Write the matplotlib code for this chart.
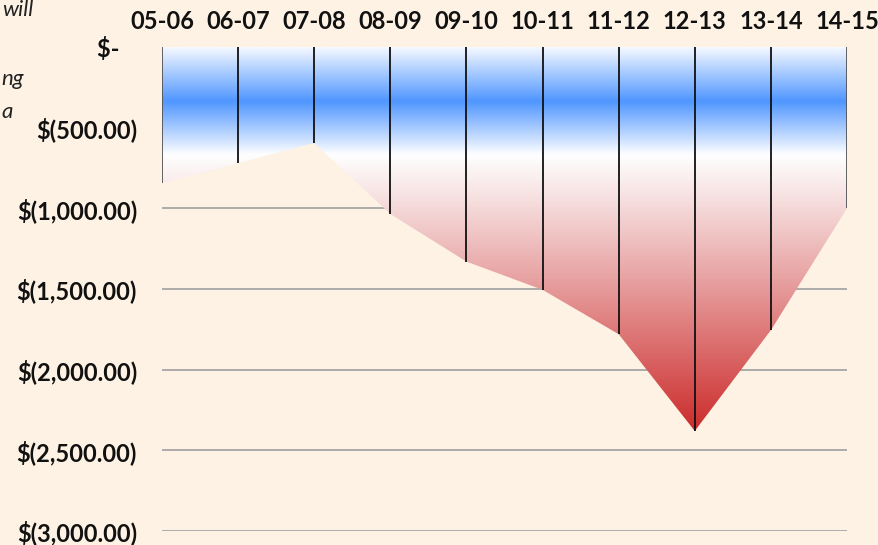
import numpy as np
import matplotlib.pyplot as plt
from matplotlib.colors import LinearSegmentedColormap
from matplotlib.patches import Polygon

plt.rcParams['text.parse_math'] = False
plt.rcParams['font.family'] = ['Lato', 'DejaVu Sans']

years = ["05-06", "06-07", "07-08", "08-09", "09-10", "10-11", "11-12", "12-13", "13-14", "14-15"]
balance = [-845, -720, -595, -1035, -1330, -1505, -1780, -2380, -1755, -1000]
y_ticks = [0, -500, -1000, -1500, -2000, -2500, -3000]
y_labels = ["$-   ", "$(500.00)", "$(1,000.00)", "$(1,500.00)", "$(2,000.00)", "$(2,500.00)", "$(3,000.00)"]

bg = "#fdf2e4"
W, H = 879, 545
fig = plt.figure(figsize=(W / 100, H / 100), dpi=100, facecolor=bg)
ax = fig.add_axes([162 / W, 1 - 531 / H, (847 - 162) / W, (531 - 47) / H], facecolor=bg)

x = np.arange(len(years))
ax.set_xlim(0, len(years) - 1)
ax.set_ylim(-3000, 0)

# gridlines
for t in y_ticks:
    ax.axhline(t, color="#a6a6a6", lw=1.3, zorder=1)

# gradient fill clipped to the area
cmap = LinearSegmentedColormap.from_list("grad", [
    (0.0, "#f4f8ff"), (0.14, "#5096ff"), (0.28, "#ffffff"),
    (0.40, "#f6dede"), (1.0, "#cc2c2c")])
ymin = min(balance)
grad = np.linspace(0, 1, 256).reshape(-1, 1)
img = ax.imshow(grad, cmap=cmap, aspect="auto", extent=[0, len(years) - 1, ymin, 0],
                origin="upper", zorder=2, interpolation="bilinear")
verts = [(0, 0)] + list(zip(x, balance)) + [(len(years) - 1, 0)]
poly = Polygon(verts, closed=True, facecolor="none", edgecolor="none")
ax.add_patch(poly)
img.set_clip_path(poly)

# drop lines
for i, v in zip(x, balance):
    c = "#555555" if i in (0, len(years) - 1) else "#111111"
    ax.vlines(i, v, 0, color=c, lw=1.3, zorder=3)

for s in ax.spines.values():
    s.set_visible(False)

ax.xaxis.tick_top()
ax.set_xticks(x)
ax.set_xticklabels(years, fontsize=17, fontweight="bold", color="#111111")
ax.tick_params(axis="x", length=0, pad=10)
ax.set_yticks(y_ticks)
ax.set_yticklabels(y_labels, fontsize=17, fontweight="bold", color="#111111")
ax.tick_params(axis="y", length=0, pad=18)

# text from neighbouring box, clipped by the chart edge
for s, xl, yc in [("will", 2, 10), ("ng", 1, 79), ("a", 1, 112)]:
    fig.text(xl / W, 1 - yc / H, s, ha="left", va="center", fontsize=16,
             style="italic", color="#222222")

fig.savefig("out.png", dpi=100, facecolor=bg)
